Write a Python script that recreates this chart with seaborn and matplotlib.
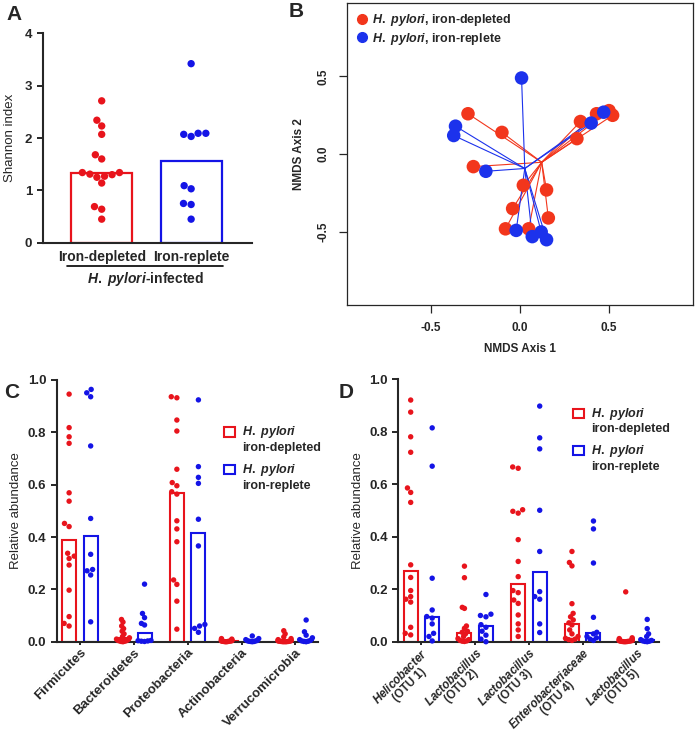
import warnings
import numpy as np
import pandas as pd
import matplotlib
matplotlib.use('Agg')
import matplotlib.pyplot as plt
from matplotlib.patches import Patch, Rectangle
from matplotlib.lines import Line2D
from matplotlib.legend_handler import HandlerPatch
import seaborn as sns

warnings.filterwarnings('ignore')

sns.set_style('ticks')
plt.rcParams['font.family'] = ['Liberation Sans', 'DejaVu Sans']
plt.rcParams['font.weight'] = 'bold'
plt.rcParams['mathtext.fontset'] = 'custom'
plt.rcParams['mathtext.it'] = 'Liberation Sans:italic:bold'
plt.rcParams['mathtext.rm'] = 'Liberation Sans:bold'
plt.rcParams['mathtext.bf'] = 'Liberation Sans:bold'

RED = '#e8141c'
BLUE = '#1414e6'
B_RED = '#f2361c'
B_BLUE = '#1c32ec'

groups = ['Iron-depleted', 'Iron-replete']

# panel A: Shannon index
shannon_depleted = [2.71, 2.34, 2.23, 2.07, 1.68, 1.60, 1.34, 1.34, 1.31, 1.30, 1.25, 1.14, 1.27, 0.69, 0.64, 0.45]
shannon_replete = [3.42, 2.03, 2.09, 2.09, 2.07, 1.09, 1.03, 0.75, 0.73, 0.45]

# panel B: NMDS
nmds1_depleted = [-0.29, -0.10, -0.26, 0.02, 0.15, -0.04, 0.16, -0.08, 0.05, 0.32, 0.34, 0.43, 0.50, 0.52]
nmds2_depleted = [0.26, 0.14, -0.08, -0.20, -0.23, -0.35, -0.41, -0.48, -0.48, 0.10, 0.21, 0.26, 0.28, 0.25]
nmds1_replete = [0.01, -0.36, -0.37, -0.19, -0.02, 0.07, 0.12, 0.15, 0.40, 0.47]
nmds2_replete = [0.49, 0.18, 0.12, -0.11, -0.49, -0.53, -0.50, -0.55, 0.20, 0.27]

# panel C: phyla
phyla = ['Firmicutes', 'Bacteroidetes', 'Proteobacteria', 'Actinobacteria', 'Verrucomicrobia']
phyla_depleted = [
    [0.946, 0.818, 0.783, 0.758, 0.569, 0.537, 0.452, 0.440, 0.338, 0.327, 0.318, 0.293, 0.197, 0.096, 0.070, 0.060],
    [0.085, 0.075, 0.060, 0.050, 0.040, 0.030, 0.020, 0.015, 0.010, 0.008, 0.005, 0.004, 0.003, 0.002, 0.001, 0.0],
    [0.936, 0.932, 0.847, 0.805, 0.659, 0.608, 0.596, 0.573, 0.564, 0.462, 0.431, 0.382, 0.236, 0.219, 0.155, 0.048],
    [0.012, 0.010, 0.008, 0.007, 0.006, 0.005, 0.004, 0.004, 0.003, 0.003, 0.002, 0.002, 0.001, 0.001, 0.0, 0.0],
    [0.042, 0.030, 0.018, 0.012, 0.008, 0.006, 0.005, 0.004, 0.003, 0.002, 0.002, 0.001, 0.001, 0.0, 0.0, 0.0],
]
phyla_replete = [
    [0.964, 0.951, 0.936, 0.748, 0.471, 0.334, 0.276, 0.271, 0.255, 0.076],
    [0.220, 0.108, 0.092, 0.070, 0.064, 0.005, 0.004, 0.003, 0.002, 0.001],
    [0.924, 0.669, 0.628, 0.605, 0.468, 0.366, 0.066, 0.060, 0.051, 0.036],
    [0.022, 0.012, 0.008, 0.005, 0.004, 0.003, 0.002, 0.001, 0.001, 0.0],
    [0.083, 0.038, 0.025, 0.015, 0.008, 0.005, 0.003, 0.002, 0.001, 0.0],
]

# panel D: OTUs
otus = ['Helicobacter (OTU 1)', 'Lactobacillus (OTU 2)', 'Lactobacillus (OTU 3)',
        'Enterobacteriaceae (OTU 4)', 'Lactobacillus (OTU 5)']
otu_labels = ['$\\mathit{Helicobacter}$\n(OTU 1)', '$\\mathit{Lactobacillus}$\n(OTU 2)',
              '$\\mathit{Lactobacillus}$\n(OTU 3)', '$\\mathit{Enterobacteriaceae}$\n(OTU 4)',
              '$\\mathit{Lactobacillus}$\n(OTU 5)']
otus_depleted = [
    [0.921, 0.875, 0.781, 0.722, 0.586, 0.569, 0.531, 0.293, 0.245, 0.195, 0.172, 0.162, 0.151, 0.055, 0.032, 0.026],
    [0.288, 0.244, 0.131, 0.127, 0.060, 0.051, 0.040, 0.036, 0.030, 0.020, 0.012, 0.008, 0.005, 0.003, 0.002, 0.001],
    [0.666, 0.661, 0.503, 0.497, 0.490, 0.389, 0.306, 0.248, 0.195, 0.187, 0.159, 0.146, 0.102, 0.068, 0.045, 0.020],
    [0.344, 0.302, 0.289, 0.145, 0.108, 0.095, 0.083, 0.072, 0.064, 0.045, 0.030, 0.020, 0.013, 0.010, 0.008, 0.005],
    [0.190, 0.015, 0.012, 0.010, 0.008, 0.006, 0.005, 0.005, 0.004, 0.003, 0.002, 0.002, 0.001, 0.001, 0.0, 0.0],
]
otus_replete = [
    [0.815, 0.669, 0.242, 0.121, 0.096, 0.090, 0.068, 0.032, 0.020, 0.003],
    [0.180, 0.105, 0.100, 0.095, 0.065, 0.055, 0.040, 0.025, 0.010, 0.0],
    [0.898, 0.777, 0.735, 0.501, 0.344, 0.191, 0.172, 0.162, 0.068, 0.035],
    [0.460, 0.430, 0.300, 0.093, 0.036, 0.030, 0.020, 0.015, 0.010, 0.005],
    [0.085, 0.050, 0.030, 0.020, 0.008, 0.005, 0.003, 0.002, 0.001, 0.0],
]

legend_labels = ['$\\mathit{H.\\ pylori}$\niron-depleted', '$\\mathit{H.\\ pylori}$\niron-replete']


def top_square(legend, orig_handle, xdescent, ydescent, width, height, fontsize):
    return Rectangle((-xdescent, -ydescent + 0.6 * fontsize), width, height)


def style_axis(ax):
    sns.despine(ax=ax)
    for s in ['left', 'bottom']:
        ax.spines[s].set_linewidth(1.5)
    ax.tick_params(axis='y', length=4, width=1.4, labelsize=9.5)
    ax.tick_params(axis='x', length=2, width=1.4, labelsize=9.5, pad=1.5)


def abundance_panel(ax, cats, dep, rep, ticklabels, anchor, tick_size, spacing):
    rows = []
    for cat, d, r in zip(cats, dep, rep):
        rows += [(cat, groups[0], v) for v in d]
        rows += [(cat, groups[1], v) for v in r]
    df = pd.DataFrame(rows, columns=['taxon', 'group', 'value'])
    sns.barplot(data=df, x='taxon', y='value', hue='group', palette=[RED, BLUE],
                estimator=np.median, errorbar=None, fill=False, width=0.8, gap=0.35,
                linewidth=1.5, ax=ax, legend=False)
    sns.swarmplot(data=df, x='taxon', y='value', hue='group', palette=[RED, BLUE],
                  dodge=True, size=3.9, ax=ax, legend=False)
    ax.set_ylim(0, 1.0)
    ax.set_xlim(-0.43, 4.42)
    ax.set_yticks([0, 0.2, 0.4, 0.6, 0.8, 1.0])
    ax.set_yticklabels(['0.0', '0.2', '0.4', '0.6', '0.8', '1.0'])
    ax.set_xlabel('')
    ax.set_ylabel('Relative abundance', fontsize=9.5, fontweight='normal', labelpad=4)
    style_axis(ax)
    ax.set_xticks(range(len(cats)))
    ax.set_xticklabels(ticklabels, rotation=45, ha='right', rotation_mode='anchor',
                       multialignment='center', fontsize=tick_size, linespacing=spacing)
    handles = [Patch(facecolor='white', edgecolor=RED, linewidth=1.5),
               Patch(facecolor='white', edgecolor=BLUE, linewidth=1.5)]
    ax.legend(handles, legend_labels, loc='upper left', bbox_to_anchor=anchor,
              frameon=False, fontsize=9, handlelength=0.85, handleheight=0.75,
              handletextpad=0.6, labelspacing=0.6, borderpad=0, borderaxespad=0,
              handler_map={Patch: HandlerPatch(patch_func=top_square)})


def narrow_swarms(ax, limit):
    # squeeze each swarm column so it stays inside its bar, the way the
    # original plot lets dots pile up near zero
    for c in ax.collections:
        if 'draw' in c.__dict__:
            del c.__dict__['draw']
        xy = c.get_offsets()
        if len(xy) == 0:
            continue
        xy = np.array(xy)
        center = np.round(np.median(xy[:, 0]) * 10) / 10
        dev = xy[:, 0] - center
        m = np.abs(dev).max()
        if m > limit:
            xy[:, 0] = center + dev * limit / m
            c.set_offsets(xy)
        c.set_clip_on(False)


fig = plt.figure(figsize=(6.96, 7.4), dpi=100)

# ---- A
axA = fig.add_axes([0.0613, 0.672, 0.3007, 0.283])
dfA = pd.DataFrame({'group': [groups[0]] * len(shannon_depleted) + [groups[1]] * len(shannon_replete),
                    'value': shannon_depleted + shannon_replete})
sns.barplot(data=dfA, x='group', y='value', hue='group', palette=[RED, BLUE],
            estimator=np.median, errorbar=None, fill=False, width=0.68, linewidth=1.6,
            ax=axA, legend=False)
sns.swarmplot(data=dfA, x='group', y='value', hue='group', palette=[RED, BLUE],
              size=5.3, ax=axA, legend=False)
axA.set_xlim(-0.66, 1.68)
axA.set_ylim(0, 4)
axA.set_yticks([0, 1, 2, 3, 4])
axA.set_xlabel('')
axA.set_ylabel('Shannon index', fontsize=9.5, fontweight='normal', labelpad=6)
style_axis(axA)
axA.tick_params(axis='x', length=0, labelsize=10, pad=5)
axA.plot([0.115, 0.863], [-0.111, -0.111], transform=axA.transAxes, clip_on=False,
         color='black', lw=1.2)
axA.text(0.49, -0.175, '$\\mathit{H.\\ pylori}$-infected', transform=axA.transAxes,
         ha='center', va='center', fontsize=10)

# ---- B
axB = fig.add_axes([0.498, 0.5878, 0.4976, 0.4077])
for xs, ys, col in [(nmds1_depleted, nmds2_depleted, B_RED), (nmds1_replete, nmds2_replete, B_BLUE)]:
    cx, cy = np.mean(xs), np.mean(ys)
    for x, y in zip(xs, ys):
        axB.plot([cx, x], [cy, y], color=col, lw=0.8, zorder=1)
dfB = pd.DataFrame({'nmds1': nmds1_depleted + nmds1_replete,
                    'nmds2': nmds2_depleted + nmds2_replete,
                    'group': [groups[0]] * len(nmds1_depleted) + [groups[1]] * len(nmds1_replete)})
sns.scatterplot(data=dfB, x='nmds1', y='nmds2', hue='group', palette=[B_RED, B_BLUE],
                s=95, edgecolor='none', alpha=1, ax=axB, legend=False, zorder=2)
axB.set_xlim(-0.97, 0.97)
axB.set_ylim(-0.97, 0.97)
axB.set_xticks([-0.5, 0, 0.5])
axB.set_xticklabels(['-0.5', '0.0', '0.5'])
axB.set_yticks([-0.5, 0, 0.5])
axB.set_yticklabels(['-0.5', '0.0', '0.5'], rotation=90, va='center')
axB.tick_params(length=6, width=0.9, labelsize=8.5, pad=6)
for s in axB.spines.values():
    s.set_linewidth(0.9)
axB.set_xlabel('NMDS Axis 1', fontsize=8.5, fontweight='bold', labelpad=7)
axB.set_ylabel('NMDS Axis 2', fontsize=8.5, fontweight='bold', labelpad=9)
hB = [Line2D([], [], marker='o', ls='none', color=B_RED, markersize=7),
      Line2D([], [], marker='o', ls='none', color=B_BLUE, markersize=7)]
axB.legend(hB, ['$\\mathit{H.\\ pylori}$, iron-depleted', '$\\mathit{H.\\ pylori}$, iron-replete'],
           loc='upper left', frameon=False, fontsize=9, handletextpad=0.3,
           labelspacing=0.2, borderaxespad=0.3, handlelength=1.0)

# ---- C
axC = fig.add_axes([0.0815, 0.1328, 0.3754, 0.3537])
abundance_panel(axC, phyla, phyla_depleted, phyla_replete, phyla, (0.64, 0.83), 9.5, 1.05)

# ---- D
axD = fig.add_axes([0.5723, 0.1328, 0.3746, 0.3546])
abundance_panel(axD, otus, otus_depleted, otus_replete, otu_labels, (0.67, 0.90), 8.3, 0.95)

# panel letters
for x, y, s in [(0.010, 0.981, 'A'), (0.414, 0.984, 'B'), (0.006, 0.47, 'C'), (0.487, 0.47, 'D')]:
    fig.text(x, y, s, fontsize=15, fontweight='bold', va='center')

fig.canvas.draw()
narrow_swarms(axA, 0.3)
narrow_swarms(axC, 0.12)
narrow_swarms(axD, 0.12)

fig.savefig('out.png', dpi=100)
